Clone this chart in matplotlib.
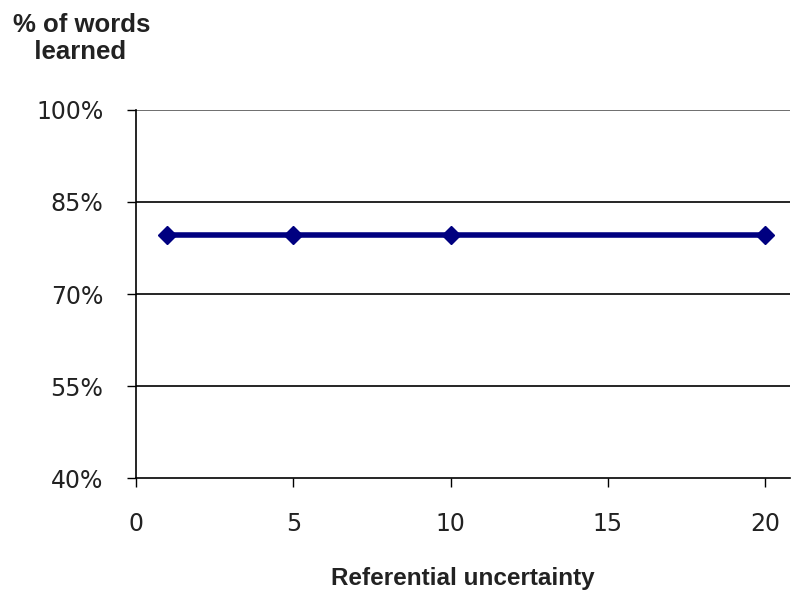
import matplotlib.pyplot as plt
from matplotlib.ticker import FuncFormatter

uncertainty = [1, 5, 10, 20]
learned = [79.6, 79.6, 79.6, 79.6]
xticks = [0, 5, 10, 15, 20]
yticks = [40, 55, 70, 85, 100]

fig = plt.figure(figsize=(7.94, 5.91), dpi=100)
ax = fig.add_axes([0.1713, 0.191, 0.824, 0.623])

for y in yticks[1:]:
    ax.axhline(y, color='black' if y < 100 else '#555555', lw=1.2, zorder=1)

ax.plot(uncertainty, learned, color='#000080', lw=4, marker='D',
        markersize=9.5, zorder=3)

ax.set_xlim(0, 20.8)
ax.set_ylim(40, 100)
ax.set_xticks(xticks)
ax.set_yticks(yticks)
ax.yaxis.set_major_formatter(FuncFormatter(lambda v, p: f'{v:.0f}%'))
ax.tick_params(labelsize=17, length=6.5, width=1, colors='black',
               labelcolor='#222222')
ax.tick_params(axis='x', pad=18)
ax.tick_params(axis='y', pad=17)
for lab in ax.get_xticklabels() + ax.get_yticklabels():
    lab.set_family('DejaVu Sans')

ax.spines['top'].set_visible(False)
ax.spines['right'].set_visible(False)
ax.spines['left'].set_linewidth(1.2)
ax.spines['bottom'].set_linewidth(1.2)

fig.text(0.016, 0.978, '% of words\n   learned', fontsize=18.5, fontweight='bold',
         family='Liberation Sans', va='top', ha='left', color='#222222',
         linespacing=1.15)
ax.set_xlabel('Referential uncertainty', fontsize=17.5, fontweight='bold',
              family='Liberation Sans', labelpad=22, color='#222222')

plt.savefig('out.png', dpi=100)
